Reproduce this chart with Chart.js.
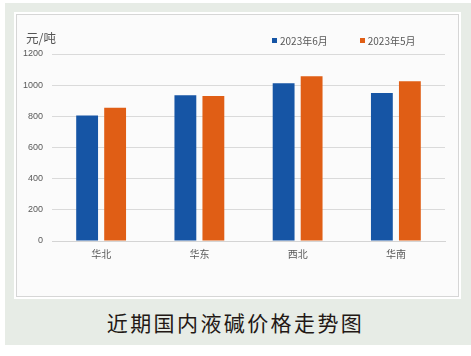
<!DOCTYPE html>
<html><head><meta charset="utf-8">
<script src="https://cdn.jsdelivr.net/npm/chart.js@4"></script>
<style>
html,body{margin:0;padding:0;background:#fff;width:471px;height:356px;overflow:hidden;font-family:"Noto Sans CJK SC",sans-serif;}
#bg{position:absolute;left:5px;top:3px;width:466px;height:342px;background:#e7ece6;}
#panel{position:absolute;left:16px;top:14px;width:441px;height:281px;background:#fbfbfb;border:1px solid #d6d6d6;box-shadow:0 0 0 2px #ffffff;}
#wrap{position:absolute;left:16px;top:14px;width:443px;height:283px;}
#unit{position:absolute;left:26px;top:28px;font-size:12.5px;color:#555;}
#legend{position:absolute;top:33px;left:272px;font-size:10px;color:#595959;display:flex;}
#legend .it{display:flex;align-items:center;margin-right:32px;}
#legend .sw{width:5px;height:5px;margin-right:3px;}
#title{position:absolute;left:0;width:471px;top:307px;text-align:center;font-size:21px;letter-spacing:2.4px;color:#231815;font-weight:400;}
</style></head>
<body>
<div id="bg"></div>
<div id="panel"></div>
<div id="wrap"><canvas id="c" width="443" height="283"></canvas></div>
<div id="unit">元/吨</div>
<div id="legend"></div>
<div id="title">近期国内液碱价格走势图</div>
<script>
const categories = ['华北','华东','西北','华南'];
const seriesNames = ['2023年6月','2023年5月'];
const june = [805, 935, 1012, 950];
const may = [855, 930, 1057, 1025];
const yTicks = [0, 200, 400, 600, 800, 1000, 1200];
const colors = ['#1655a5','#e05e15'];

const lg = document.getElementById('legend');
seriesNames.forEach((n,i)=>{
  const it=document.createElement('div');it.className='it';
  const sw=document.createElement('div');sw.className='sw';sw.style.background=colors[i];
  const t=document.createElement('span');t.textContent=n;
  it.appendChild(sw);it.appendChild(t);lg.appendChild(it);
});

new Chart(document.getElementById('c'), {
  type:'bar',
  data:{
    labels:categories,
    datasets:[
      {label:seriesNames[0],data:june,backgroundColor:colors[0],borderWidth:0},
      {label:seriesNames[1],data:may,backgroundColor:colors[1],borderWidth:0}
    ]
  },
  options:{
    responsive:false,animation:false,
    layout:{padding:{left:0,right:14,top:40,bottom:28}},
    plugins:{legend:{display:false},tooltip:{enabled:false},title:{display:false}},
    datasets:{bar:{categoryPercentage:0.57,barPercentage:0.78}},
    scales:{
      x:{
        grid:{display:false,drawTicks:false},
        border:{color:'#d4d4d4',width:1},
        ticks:{color:'#595959',font:{size:10,family:'"Noto Sans CJK SC",sans-serif'},padding:7},
        afterFit:(s)=>{s.height=28;}
      },
      y:{
        min:0,max:1200,
        afterBuildTicks:(s)=>{s.ticks=yTicks.map(v=>({value:v}));},
        grid:{color:'#dadada',drawTicks:false},
        border:{display:false},
        ticks:{color:'#595959',font:{size:9,family:'"Liberation Sans",sans-serif'},padding:9,callback:(v)=>String(v)},
        afterFit:(s)=>{s.width=36;}
      }
    }
  }
});
</script>
</body></html>
